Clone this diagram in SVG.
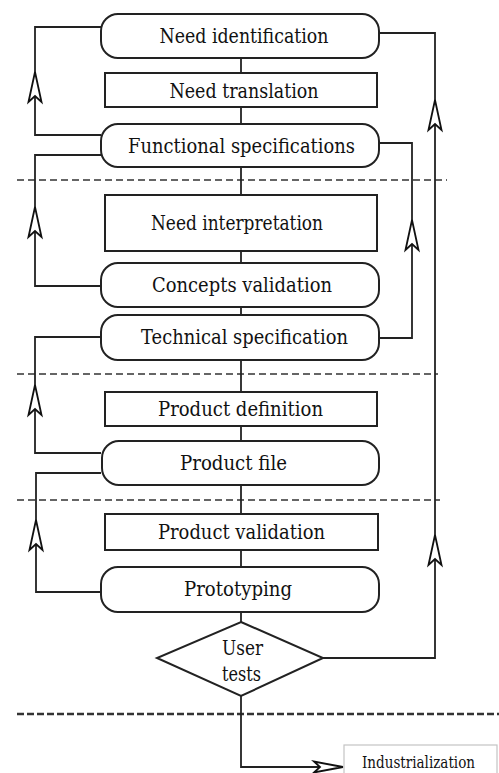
<svg xmlns="http://www.w3.org/2000/svg" width="499" height="773" viewBox="0 0 499 773">
  <style>
    .box { fill: #fff; stroke: #222; stroke-width: 2; }
    .lbl { font-family: "DejaVu Serif", serif; font-size: 20.5px; fill: #111; text-anchor: middle; }
    .wire { fill: none; stroke: #222; stroke-width: 1.8; }
    .phase { fill: none; stroke: #333; stroke-width: 1.6; stroke-dasharray: 7 4; }
    .head { fill: #fff; stroke: #111; stroke-width: 1.8; stroke-linejoin: miter; }
  </style>
  <defs>
    <!-- open notched arrowhead pointing up, tip at origin -->
    <path id="up" class="head" d="M0,0 L6.5,30 L0,24 L-6.5,30 Z"/>
  </defs>
  <rect width="499" height="773" fill="#fff"/>

  <!-- phase separators -->
  <g id="phases">
    <line class="phase" x1="17" y1="180" x2="447" y2="180"/>
    <line class="phase" x1="17" y1="374" x2="438" y2="374"/>
    <line class="phase" x1="17" y1="500" x2="440" y2="500"/>
    <line class="phase" x1="17" y1="714" x2="499" y2="714" style="stroke-width:2.6;stroke-dasharray:7 3"/>
  </g>

  <g id="connectors">
    <!-- main flow spine -->
    <line class="wire" x1="241" y1="58" x2="241" y2="622"/>
    <!-- left feedback loops -->
    <path class="wire" d="M101,135 H35 V27 H101"/>
    <path class="wire" d="M101,286 H35 V155 H101"/>
    <path class="wire" d="M101,453 H35 V337 H101"/>
    <path class="wire" d="M101,592 H36 V473 H101"/>
    <!-- right feedback loops -->
    <path class="wire" d="M379,33 H435 V658 H323"/>
    <path class="wire" d="M379,338 H412 V143 H379"/>
    <!-- exit to industrialization -->
    <path class="wire" d="M241,696 V767 H322"/>
    <use href="#up" x="35" y="72"/>
    <use href="#up" x="35" y="207"/>
    <use href="#up" x="35" y="385"/>
    <use href="#up" x="36" y="520"/>
    <use href="#up" x="435" y="100"/>
    <use href="#up" x="435" y="535"/>
    <use href="#up" x="412" y="220"/>
    <path class="head" d="M343,767 L314,761.5 L320,767 L314,772.5 Z"/>
  </g>

  <g id="need-identification">
    <rect class="box" x="101" y="14" width="278" height="44" rx="17"/>
    <text class="lbl" x="244" y="43" textLength="169" lengthAdjust="spacingAndGlyphs">Need identification</text>
  </g>
  <g id="need-translation">
    <rect class="box" x="105" y="73" width="272" height="34"/>
    <text class="lbl" x="244" y="98" textLength="149" lengthAdjust="spacingAndGlyphs">Need translation</text>
  </g>
  <g id="functional-specifications">
    <rect class="box" x="101" y="124" width="278" height="43" rx="17"/>
    <text class="lbl" x="241.5" y="152.5" textLength="227" lengthAdjust="spacingAndGlyphs">Functional specifications</text>
  </g>
  <g id="need-interpretation">
    <rect class="box" x="105" y="195" width="272" height="56"/>
    <text class="lbl" x="237" y="230" textLength="172" lengthAdjust="spacingAndGlyphs">Need interpretation</text>
  </g>
  <g id="concepts-validation">
    <rect class="box" x="101" y="263" width="278" height="44" rx="17"/>
    <text class="lbl" x="242" y="292" textLength="180" lengthAdjust="spacingAndGlyphs">Concepts validation</text>
  </g>
  <g id="technical-specification">
    <rect class="box" x="101" y="315" width="278" height="45" rx="17"/>
    <text class="lbl" x="244.5" y="344" textLength="207" lengthAdjust="spacingAndGlyphs">Technical specification</text>
  </g>
  <g id="product-definition">
    <rect class="box" x="105" y="392" width="272" height="34"/>
    <text class="lbl" x="240.5" y="416" textLength="165" lengthAdjust="spacingAndGlyphs">Product definition</text>
  </g>
  <g id="product-file">
    <rect class="box" x="102" y="441" width="277" height="44" rx="17"/>
    <text class="lbl" x="233.5" y="470" textLength="107" lengthAdjust="spacingAndGlyphs">Product file</text>
  </g>
  <g id="product-validation">
    <rect class="box" x="105" y="514" width="273" height="36"/>
    <text class="lbl" x="241.5" y="539" textLength="167" lengthAdjust="spacingAndGlyphs">Product validation</text>
  </g>
  <g id="prototyping">
    <rect class="box" x="101" y="567" width="278" height="45" rx="17"/>
    <text class="lbl" x="238" y="596" textLength="108" lengthAdjust="spacingAndGlyphs">Prototyping</text>
  </g>
  <g id="user-tests">
    <polygon class="box" points="241,622 323,658 241,696 157,658"/>
    <text class="lbl" x="242.5" y="655" textLength="41" lengthAdjust="spacingAndGlyphs">User</text>
    <text class="lbl" x="241.5" y="681" textLength="39" lengthAdjust="spacingAndGlyphs">tests</text>
  </g>
  <g id="industrialization">
    <rect x="344" y="745" width="153" height="40" fill="#fff" stroke="#c4c4c4" stroke-width="1.2"/>
    <text class="lbl" x="418.5" y="768" style="font-size:16px" textLength="113" lengthAdjust="spacingAndGlyphs">Industrialization</text>
  </g>
</svg>
